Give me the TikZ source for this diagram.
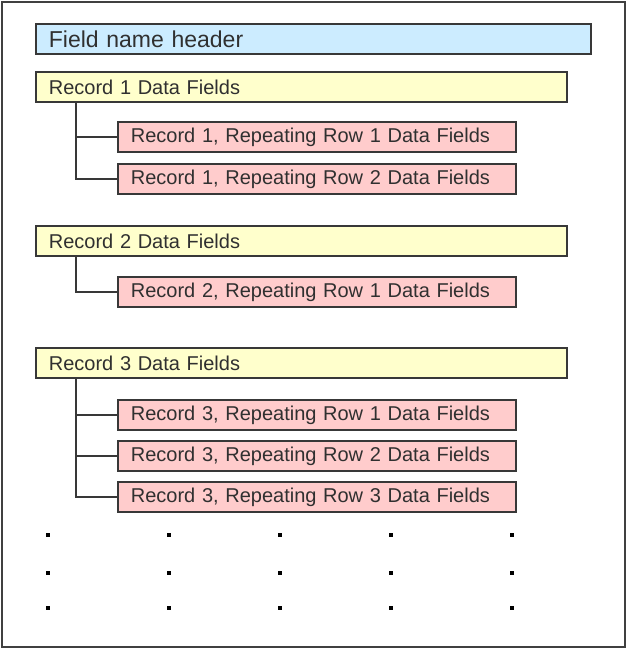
\documentclass[tikz,border=0pt]{standalone}
\usepackage{fontspec}
\setmainfont{Liberation Sans}
\definecolor{hdrblue}{HTML}{CCECFF}
\definecolor{recyel}{HTML}{FFFFCC}
\definecolor{rowpink}{HTML}{FFCCCC}
\definecolor{edge}{HTML}{383838}
\definecolor{txt}{HTML}{303030}
\begin{document}
\begin{tikzpicture}[x=1pt,y=-1pt,
  box/.style={draw=edge, line width=1.8pt, anchor=north west, inner xsep=13pt, inner ysep=0pt,
    align=left, text=txt, minimum height=30pt, font=\fontsize{20}{22}\selectfont},
  hdr/.style={box, fill=hdrblue, text width=529pt, font=\fontsize{23}{26}\selectfont},
  rec/.style={box, fill=recyel, text width=505pt},
  row/.style={box, fill=rowpink, text width=372pt},
  link/.style={draw=edge, line width=1.6pt},
  dotmark/.style={fill=black, minimum size=3.5pt, inner sep=0pt, anchor=center}]
\useasboundingbox (0,0) rectangle (627,649);
\draw[draw=black!75, line width=2.2pt] (2,2) rectangle (625,647);

\node[hdr] (hdr) at (35,23) {Field name header};

\node[rec] (r1) at (35,71) {Record 1 Data Fields};
\node[row] (r1a) at (117,121) {Record 1, Repeating Row 1 Data Fields};
\node[row] (r1b) at (117,163) {Record 1, Repeating Row 2 Data Fields};

\node[rec] (r2) at (35,225) {Record 2 Data Fields};
\node[row] (r2a) at (117,276) {Record 2, Repeating Row 1 Data Fields};

\node[rec] (r3) at (35,347) {Record 3 Data Fields};
\node[row] (r3a) at (117,399) {Record 3, Repeating Row 1 Data Fields};
\node[row] (r3b) at (117,440) {Record 3, Repeating Row 2 Data Fields};
\node[row] (r3c) at (117,481) {Record 3, Repeating Row 3 Data Fields};

\coordinate (c1) at ([xshift=41pt]r1.south west);
\coordinate (c2) at ([xshift=41pt]r2.south west);
\coordinate (c3) at ([xshift=41pt]r3.south west);
\draw[link] (c1) |- (r1a.west);
\draw[link] (c1) |- (r1b.west);
\draw[link] (c2) |- (r2a.west);
\draw[link] (c3) |- (r3a.west);
\draw[link] (c3) |- (r3b.west);
\draw[link] (c3) |- (r3c.west);

\foreach \xx [count=\i] in {48,169,280,391,512}
  \foreach \yy [count=\j] in {535,573,608}
    \node[dotmark] (d\i\j) at (\xx,\yy) {};
\end{tikzpicture}
\end{document}
